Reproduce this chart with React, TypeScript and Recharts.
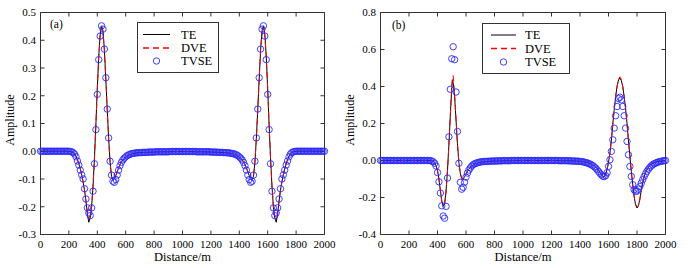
import React from 'react';
import { ComposedChart, Line, Scatter, XAxis, YAxis } from 'recharts';

const FONT = '"Liberation Serif", "Times New Roman", serif';
const AXIS = '#333';

const distanceTicks = [0, 200, 400, 600, 800, 1000, 1200, 1400, 1600, 1800, 2000];
const amplitudeTicksA = [-0.3, -0.2, -0.1, 0, 0.1, 0.2, 0.3, 0.4, 0.5];
const amplitudeTicksB = [-0.4, -0.2, 0, 0.2, 0.4, 0.6, 0.8];

// TVSE samples, every 10 m
const tvseDistance = [
  0, 10, 20, 30, 40, 50, 60, 70, 80, 90,
  100, 110, 120, 130, 140, 150, 160, 170, 180, 190,
  200, 210, 220, 230, 240, 250, 260, 270, 280, 290,
  300, 310, 320, 330, 340, 350, 360, 370, 380, 390,
  400, 410, 420, 430, 440, 450, 460, 470, 480, 490,
  500, 510, 520, 530, 540, 550, 560, 570, 580, 590,
  600, 610, 620, 630, 640, 650, 660, 670, 680, 690,
  700, 710, 720, 730, 740, 750, 760, 770, 780, 790,
  800, 810, 820, 830, 840, 850, 860, 870, 880, 890,
  900, 910, 920, 930, 940, 950, 960, 970, 980, 990,
  1000, 1010, 1020, 1030, 1040, 1050, 1060, 1070, 1080, 1090,
  1100, 1110, 1120, 1130, 1140, 1150, 1160, 1170, 1180, 1190,
  1200, 1210, 1220, 1230, 1240, 1250, 1260, 1270, 1280, 1290,
  1300, 1310, 1320, 1330, 1340, 1350, 1360, 1370, 1380, 1390,
  1400, 1410, 1420, 1430, 1440, 1450, 1460, 1470, 1480, 1490,
  1500, 1510, 1520, 1530, 1540, 1550, 1560, 1570, 1580, 1590,
  1600, 1610, 1620, 1630, 1640, 1650, 1660, 1670, 1680, 1690,
  1700, 1710, 1720, 1730, 1740, 1750, 1760, 1770, 1780, 1790,
  1800, 1810, 1820, 1830, 1840, 1850, 1860, 1870, 1880, 1890,
  1900, 1910, 1920, 1930, 1940, 1950, 1960, 1970, 1980, 1990,
  2000,
];

const tvseA = [
  0, 0, 0, 0, 0, 0, 0, 0, 0, 0,
  0, 0, 0, 0, 0, 0, 0, 0, 0, 0,
  0, -0.001, -0.002, -0.005, -0.01, -0.02, -0.035, -0.05, -0.068, -0.085,
  -0.1, -0.135, -0.172, -0.204, -0.222, -0.232, -0.204, -0.144, -0.045, 0.078,
  0.205, 0.33, 0.415, 0.452, 0.44, 0.368, 0.265, 0.152, 0.048, -0.036,
  -0.086, -0.108, -0.112, -0.102, -0.086, -0.068, -0.052, -0.04, -0.031, -0.025,
  -0.02, -0.016, -0.013, -0.011, -0.009, -0.008, -0.007, -0.006, -0.006, -0.005,
  -0.005, -0.005, -0.004, -0.004, -0.004, -0.004, -0.003, -0.003, -0.003, -0.003,
  -0.003, -0.002, -0.002, -0.002, -0.002, -0.002, -0.002, -0.002, -0.002, -0.002,
  -0.002, -0.001, -0.001, -0.001, -0.001, -0.001, -0.001, -0.001, -0.001, -0.001,
  -0.001, -0.001, -0.001, -0.001, -0.001, -0.001, -0.001, -0.001, -0.001, -0.001,
  -0.002, -0.002, -0.002, -0.002, -0.002, -0.002, -0.002, -0.002, -0.002, -0.002,
  -0.003, -0.003, -0.003, -0.003, -0.003, -0.004, -0.004, -0.004, -0.004, -0.005,
  -0.005, -0.005, -0.006, -0.006, -0.007, -0.008, -0.009, -0.011, -0.013, -0.016,
  -0.02, -0.025, -0.031, -0.04, -0.052, -0.068, -0.086, -0.102, -0.112, -0.108,
  -0.086, -0.036, 0.048, 0.152, 0.265, 0.368, 0.44, 0.452, 0.415, 0.33,
  0.205, 0.078, -0.045, -0.144, -0.204, -0.232, -0.222, -0.204, -0.172, -0.135,
  -0.1, -0.085, -0.068, -0.05, -0.035, -0.02, -0.01, -0.005, -0.002, -0.001,
  0, 0, 0, 0, 0, 0, 0, 0, 0, 0,
  0, 0, 0, 0, 0, 0, 0, 0, 0, 0,
  0,
];

const tvseB = [
  0, 0, 0, 0, 0, 0, 0, 0, 0, 0,
  0, 0, 0, 0, 0, 0, 0, 0, 0, 0,
  0, 0, 0, 0, 0, 0, 0, 0, 0, 0,
  0, 0, 0, 0, 0, -0.001, -0.003, -0.007, -0.015, -0.03,
  -0.065, -0.115, -0.176, -0.245, -0.3, -0.312, -0.248, -0.095, 0.128, 0.385,
  0.55, 0.615, 0.545, 0.37, 0.157, -0.015, -0.118, -0.155, -0.145, -0.118,
  -0.09, -0.068, -0.052, -0.04, -0.03, -0.023, -0.018, -0.015, -0.012, -0.01,
  -0.008, -0.007, -0.006, -0.005, -0.005, -0.005, -0.004, -0.004, -0.003, -0.003,
  -0.003, -0.003, -0.002, -0.002, -0.002, -0.002, -0.001, -0.001, -0.001, -0.001,
  -0.001, -0.001, 0, 0, 0, 0, 0, 0, 0, 0,
  0, 0, 0, 0, 0, 0, 0, 0, 0, 0,
  0, 0, 0, 0, 0, 0, 0, 0, 0, 0,
  0, 0, 0, 0, 0, -0.001, -0.001, -0.001, -0.001, -0.001,
  -0.001, -0.001, -0.002, -0.002, -0.002, -0.003, -0.003, -0.003, -0.004, -0.004,
  -0.005, -0.006, -0.007, -0.009, -0.011, -0.013, -0.016, -0.019, -0.023, -0.028,
  -0.034, -0.041, -0.05, -0.059, -0.069, -0.078, -0.085, -0.087, -0.082, -0.066,
  -0.032, 0.004, 0.049, 0.112, 0.175, 0.242, 0.292, 0.335, 0.342, 0.328,
  0.292, 0.242, 0.175, 0.103, 0.031, -0.032, -0.086, -0.131, -0.158, -0.167,
  -0.165, -0.155, -0.14, -0.122, -0.104, -0.087, -0.072, -0.058, -0.047, -0.037,
  -0.029, -0.023, -0.018, -0.014, -0.011, -0.008, -0.006, -0.004, -0.003, -0.001,
  0,
];

// TE / DVE curves, panel (a)
const lineDistanceA = [
  0, 100, 200, 210, 220, 230, 240, 250, 260, 270, 280, 290,
  300, 310, 320, 330, 340, 350, 360, 370, 380, 390,
  400, 410, 420, 430, 440, 450, 460, 470, 480, 490,
  500, 510, 520, 530, 540, 550, 560, 570, 580, 590,
  600, 620, 640, 660, 680, 700, 750, 800, 850, 900, 950,
  1000, 1050, 1100, 1150, 1200, 1250, 1300, 1320, 1340, 1360, 1380,
  1400, 1410, 1420, 1430, 1440, 1450, 1460, 1470, 1480, 1490,
  1500, 1510, 1520, 1530, 1540, 1550, 1560, 1570, 1580, 1590,
  1600, 1610, 1620, 1630, 1640, 1650, 1660, 1670, 1680, 1690,
  1700, 1710, 1720, 1730, 1740, 1750, 1760, 1770, 1780, 1790,
  1800, 1900, 2000,
];

const teA = [
  0, 0, 0, -0.001, -0.002, -0.005, -0.01, -0.018, -0.03, -0.045, -0.063, -0.085,
  -0.11, -0.14, -0.18, -0.225, -0.256, -0.24, -0.2, -0.125, -0.025, 0.095,
  0.225, 0.34, 0.42, 0.452, 0.435, 0.365, 0.26, 0.15, 0.045, -0.04,
  -0.09, -0.105, -0.1, -0.088, -0.074, -0.06, -0.048, -0.039, -0.031, -0.026,
  -0.021, -0.014, -0.01, -0.007, -0.006, -0.005, -0.004, -0.003, -0.002, -0.002, -0.001,
  -0.001, -0.001, -0.002, -0.002, -0.003, -0.004, -0.005, -0.006, -0.007, -0.01, -0.014,
  -0.021, -0.026, -0.031, -0.039, -0.048, -0.06, -0.074, -0.088, -0.1, -0.105,
  -0.09, -0.04, 0.045, 0.15, 0.26, 0.365, 0.435, 0.452, 0.42, 0.34,
  0.225, 0.095, -0.025, -0.125, -0.2, -0.24, -0.256, -0.225, -0.18, -0.14,
  -0.11, -0.085, -0.063, -0.045, -0.03, -0.018, -0.01, -0.005, -0.002, -0.001,
  0, 0, 0,
];

const dveA = [
  0, 0, 0, -0.001, -0.002, -0.005, -0.01, -0.018, -0.03, -0.045, -0.063, -0.085,
  -0.11, -0.14, -0.18, -0.22, -0.242, -0.232, -0.2, -0.125, -0.025, 0.095,
  0.225, 0.34, 0.415, 0.442, 0.428, 0.365, 0.26, 0.15, 0.045, -0.04,
  -0.09, -0.105, -0.1, -0.088, -0.074, -0.06, -0.048, -0.039, -0.031, -0.026,
  -0.021, -0.014, -0.01, -0.007, -0.006, -0.005, -0.004, -0.003, -0.002, -0.002, -0.001,
  -0.001, -0.001, -0.002, -0.002, -0.003, -0.004, -0.005, -0.006, -0.007, -0.01, -0.014,
  -0.021, -0.026, -0.031, -0.039, -0.048, -0.06, -0.074, -0.088, -0.1, -0.105,
  -0.09, -0.04, 0.045, 0.15, 0.26, 0.365, 0.428, 0.442, 0.415, 0.34,
  0.225, 0.095, -0.025, -0.125, -0.2, -0.232, -0.242, -0.22, -0.18, -0.14,
  -0.11, -0.085, -0.063, -0.045, -0.03, -0.018, -0.01, -0.005, -0.002, -0.001,
  0, 0, 0,
];

// TE / DVE curves, panel (b)
const lineDistanceB = [
  0, 100, 200, 300, 340, 350, 360, 370, 380, 390,
  400, 410, 420, 430, 440, 450, 460, 470, 480, 490,
  500, 505, 510, 520, 530, 540, 550, 560, 570, 580, 590,
  600, 610, 620, 630, 640, 650, 660, 670, 680, 690,
  700, 750, 800, 850, 900, 1000, 1100, 1200, 1300, 1350,
  1400, 1420, 1440, 1460, 1480,
  1500, 1510, 1520, 1530, 1540, 1550, 1560, 1570, 1580, 1590,
  1600, 1610, 1620, 1630, 1640, 1650, 1660, 1670, 1680, 1690,
  1700, 1710, 1720, 1730, 1740, 1750, 1760, 1770, 1780, 1790,
  1800, 1810, 1820, 1830, 1840, 1850, 1860, 1870, 1880, 1890,
  1900, 1920, 1940, 1960, 1980, 2000,
];

const teB = [
  0, 0, 0, 0, 0, -0.001, -0.002, -0.005, -0.012, -0.028,
  -0.055, -0.1, -0.16, -0.22, -0.248, -0.235, -0.165, -0.055, 0.085, 0.245,
  0.395, 0.436, 0.42, 0.345, 0.22, 0.09, -0.01, -0.07, -0.098, -0.1, -0.088,
  -0.073, -0.059, -0.047, -0.037, -0.03, -0.024, -0.019, -0.016, -0.013, -0.011,
  -0.009, -0.005, -0.003, -0.002, -0.001, 0, 0, 0, -0.001, -0.002,
  -0.004, -0.006, -0.009, -0.013, -0.019,
  -0.028, -0.035, -0.044, -0.054, -0.065, -0.076, -0.085, -0.088, -0.077, -0.048,
  -0.01, 0.04, 0.11, 0.195, 0.275, 0.345, 0.4, 0.435, 0.446, 0.432,
  0.4, 0.345, 0.28, 0.2, 0.11, 0.025, -0.06, -0.13, -0.195, -0.24,
  -0.257, -0.245, -0.21, -0.16, -0.12, -0.088, -0.065, -0.048, -0.036, -0.027,
  -0.02, -0.012, -0.007, -0.004, -0.002, -0.001,
];

const dveB = [
  0, 0, 0, 0, 0, -0.001, -0.002, -0.005, -0.012, -0.028,
  -0.055, -0.1, -0.16, -0.22, -0.245, -0.235, -0.165, -0.055, 0.085, 0.245,
  0.4, 0.44, 0.46, 0.36, 0.225, 0.09, -0.01, -0.07, -0.098, -0.1, -0.088,
  -0.073, -0.059, -0.047, -0.037, -0.03, -0.024, -0.019, -0.016, -0.013, -0.011,
  -0.009, -0.005, -0.003, -0.002, -0.001, 0, 0, 0, -0.001, -0.002,
  -0.004, -0.006, -0.009, -0.013, -0.019,
  -0.028, -0.035, -0.044, -0.054, -0.065, -0.076, -0.085, -0.088, -0.077, -0.048,
  -0.01, 0.04, 0.11, 0.195, 0.275, 0.345, 0.4, 0.44, 0.452, 0.438,
  0.4, 0.345, 0.28, 0.2, 0.11, 0.025, -0.06, -0.13, -0.195, -0.236,
  -0.25, -0.245, -0.21, -0.16, -0.12, -0.088, -0.065, -0.048, -0.036, -0.027,
  -0.02, -0.012, -0.007, -0.004, -0.002, -0.001,
];

const toPoints = (xs: number[], ys: number[]) => xs.map((x, i) => ({ x, y: ys[i] }));

const XTick = (props: any) => {
  const { x, y, payload } = props;
  return (
    <g>
      <line x1={x} y1={y} x2={x} y2={y - 4} stroke={AXIS} />
      <text x={x} y={y + 13} textAnchor="middle" fontSize={11} fontFamily={FONT} fill="#000">
        {payload.value}
      </text>
    </g>
  );
};

const YTick = (props: any) => {
  const { x, y, payload } = props;
  return (
    <g>
      <line x1={x} y1={y} x2={x + 4} y2={y} stroke={AXIS} />
      <text x={x - 4.5} y={y + 3.8} textAnchor="end" fontSize={11} fontFamily={FONT} fill="#000">
        {Number(payload.value).toFixed(1)}
      </text>
    </g>
  );
};

const NoTick = () => <g />;

const AmplitudeTitle = (props: any) => {
  const { viewBox } = props;
  const tx = viewBox.x + 14;
  const ty = 120;
  return (
    <text x={tx} y={ty} transform={`rotate(-90 ${tx} ${ty})`} textAnchor="middle" fontSize={12} fontFamily={FONT} fill="#000">
      Amplitude
    </text>
  );
};

const Circle = (props: any) => (
  <circle cx={props.cx} cy={props.cy} r={3.2} fill="none" stroke="#2a2aff" strokeWidth={0.9} />
);

interface PanelProps {
  left: number;
  width: number;
  marginRight: number;
  yDomain: [number, number];
  yTicks: number[];
  te: { x: number; y: number }[];
  dve: { x: number; y: number }[];
  tvse: { x: number; y: number }[];
}

const Panel: React.FC<PanelProps> = ({ left, width, marginRight, yDomain, yTicks, te, dve, tvse }) => (
  <div style={{ position: 'absolute', left, top: 0 }}>
    <ComposedChart width={width} height={268} margin={{ top: 12.5, right: marginRight, left: 0, bottom: 0 }}>
      <XAxis
        dataKey="x"
        type="number"
        domain={[0, 2000]}
        ticks={distanceTicks}
        interval={0}
        height={33.5}
        tickSize={0}
        tickMargin={0}
        tickLine={false}
        tick={<XTick />}
        axisLine={{ stroke: AXIS }}
        label={{ value: 'Distance/m', position: 'insideBottom', offset: 7, fill: '#000', fontSize: 12.5, fontFamily: FONT }}
      />
      <XAxis
        xAxisId="top"
        orientation="top"
        mirror
        dataKey="x"
        type="number"
        domain={[0, 2000]}
        allowDataOverflow
        ticks={distanceTicks}
        interval={0}
        tickSize={4}
        tick={<NoTick />}
        tickLine={{ stroke: AXIS }}
        axisLine={{ stroke: AXIS }}
      />
      <YAxis
        dataKey="y"
        type="number"
        domain={yDomain}
        ticks={yTicks}
        interval={0}
        width={40.5}
        tickSize={0}
        tickMargin={0}
        tickLine={false}
        tick={<YTick />}
        axisLine={{ stroke: AXIS }}
        label={(p: any) => <AmplitudeTitle {...p} />}
      />
      <YAxis
        yAxisId="right"
        orientation="right"
        mirror
        dataKey="y"
        type="number"
        domain={yDomain}
        allowDataOverflow
        ticks={yTicks}
        interval={0}
        tickSize={4}
        tick={<NoTick />}
        tickLine={{ stroke: AXIS }}
        axisLine={{ stroke: AXIS }}
      />
      <Line data={te} dataKey="y" type="linear" stroke="#000" strokeWidth={1} dot={false} activeDot={false} isAnimationActive={false} />
      <Line data={dve} dataKey="y" type="linear" stroke="#ff0000" strokeWidth={1} strokeDasharray="6 4" dot={false} activeDot={false} isAnimationActive={false} />
      <Scatter data={tvse} dataKey="y" shape={Circle} isAnimationActive={false} />
    </ComposedChart>
  </div>
);

const LegendBox = ({ x, y, w, rows, lineX1, lineX2, textX }: any) => (
  <g fontFamily={FONT} fontSize={12.5}>
    <rect x={x} y={y} width={w} height={50} fill="#fff" stroke={AXIS} strokeWidth={1} />
    <line x1={lineX1} x2={lineX2} y1={rows[0]} y2={rows[0]} stroke="#000" strokeWidth={1} />
    <text x={textX} y={rows[0] + 4} fill="#000">TE</text>
    <line x1={lineX1} x2={lineX2} y1={rows[1]} y2={rows[1]} stroke="#ff0000" strokeWidth={1.4} strokeDasharray="6 4" />
    <text x={textX} y={rows[1] + 4} fill="#000">DVE</text>
    <circle cx={(lineX1 + lineX2) / 2} cy={rows[2]} r={3.2} fill="none" stroke="#2a2aff" strokeWidth={0.9} />
    <text x={textX} y={rows[2] + 4} fill="#000">TVSE</text>
  </g>
);

export default function App() {
  return (
    <div style={{ position: 'absolute', left: 0, top: 0, width: 699, height: 268, background: '#fff', overflow: 'hidden' }}>
      <Panel
        left={0}
        width={349}
        marginRight={24.5}
        yDomain={[-0.3, 0.5]}
        yTicks={amplitudeTicksA}
        te={toPoints(lineDistanceA, teA)}
        dve={toPoints(lineDistanceA, dveA)}
        tvse={toPoints(tvseDistance, tvseA)}
      />
      <Panel
        left={340}
        width={359}
        marginRight={33.5}
        yDomain={[-0.4, 0.8]}
        yTicks={amplitudeTicksB}
        te={toPoints(lineDistanceB, teB)}
        dve={toPoints(lineDistanceB, dveB)}
        tvse={toPoints(tvseDistance, tvseB)}
      />
      <svg width={699} height={268} style={{ position: 'absolute', left: 0, top: 0, pointerEvents: 'none' }}>
        <LegendBox x={137.5} y={22.5} w={81} rows={[34.5, 48, 61]} lineX1={143} lineX2={170} textX={181} />
        <LegendBox x={482.5} y={23.5} w={87} rows={[35, 48.5, 62]} lineX1={491} lineX2={516} textX={525} />
        <text x={50} y={28} fontFamily={FONT} fontSize={11.5} fill="#000">(a)</text>
        <text x={392} y={29} fontFamily={FONT} fontSize={11.5} fill="#000">(b)</text>
      </svg>
    </div>
  );
}
